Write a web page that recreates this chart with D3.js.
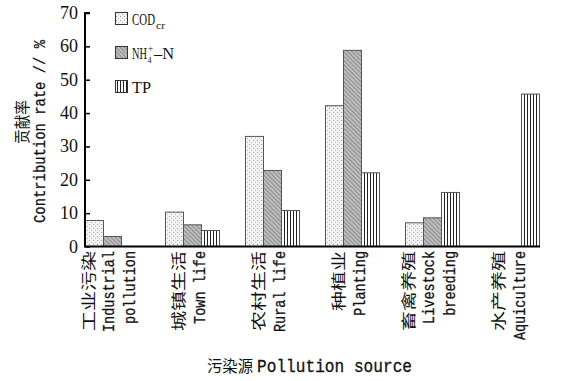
<!DOCTYPE html>
<html>
<head>
<meta charset="utf-8">
<script src="https://cdn.jsdelivr.net/npm/d3@7"></script>
<style>
  body { margin: 0; background: #fff; }
  svg { display: block; }
</style>
</head>
<body>
<div id="chart"></div>
<script>
// categories (zh + en lines), series values
const categoriesZh = ['工业污染', '城镇生活', '农村生活', '种植业', '畜禽养殖', '水产养殖']
const categoriesEn = [['Industrial', 'pollution'], ['Town life'], ['Rural life'], ['Planting'], ['Livestock', 'breeding'], ['Aquiculture']]
const seriesKeys = ['cod', 'nh4', 'tp']
const codValues = [7.8, 10.3, 33.0, 42.2, 7.1, 0]
const nh4Values = [3.0, 6.5, 22.8, 58.8, 8.6, 0]
const tpValues = [0, 4.8, 10.8, 22.1, 16.2, 45.7]
const yTicks = [0, 10, 20, 30, 40, 50, 60, 70]

const width = 572
const height = 381
const X0 = 85
const X1 = 539
const Y0 = 246.5
const Y1 = 13

const SERIF = '"Liberation Serif", "Times New Roman", serif'
const MONO = '"Liberation Mono", "DejaVu Sans Mono", monospace'
const CJK = '"Noto Sans CJK SC", sans-serif'

const svg = d3.select('#chart').append('svg').attr('width', width).attr('height', height)

// ---------- patterns
const defs = svg.append('defs')

const pDots = defs.append('pattern').attr('id', 'p-cod').attr('patternUnits', 'userSpaceOnUse')
  .attr('width', 4).attr('height', 4)
pDots.append('rect').attr('width', 4).attr('height', 4).attr('fill', '#f3f3f3')
pDots.append('rect').attr('x', 0).attr('y', 0).attr('width', 1).attr('height', 1).attr('fill', '#9a9a9a')
pDots.append('rect').attr('x', 2).attr('y', 2).attr('width', 1).attr('height', 1).attr('fill', '#b5b5b5')

const pDiag = defs.append('pattern').attr('id', 'p-nh4').attr('patternUnits', 'userSpaceOnUse')
  .attr('width', 3).attr('height', 3).attr('patternTransform', 'rotate(-45)')
pDiag.append('rect').attr('width', 3).attr('height', 3).attr('fill', '#c4c4c4')
pDiag.append('rect').attr('width', 1.2).attr('height', 3).attr('fill', '#8a8a8a')

const pVert = defs.append('pattern').attr('id', 'p-tp').attr('patternUnits', 'userSpaceOnUse')
  .attr('width', 3).attr('height', 3)
pVert.append('rect').attr('width', 3).attr('height', 3).attr('fill', '#fff')
pVert.append('rect').attr('x', 0).attr('width', 1).attr('height', 3).attr('fill', '#222')

const fills = { cod: 'url(#p-cod)', nh4: 'url(#p-nh4)', tp: 'url(#p-tp)' }

// ---------- scales
const xScale = d3.scaleBand()
  .domain(categoriesZh)
  .range([X0, X1])
  .paddingInner(0.325)
  .paddingOuter(0)
  .align(0)

const xSub = d3.scaleBand().domain(seriesKeys).range([0, xScale.bandwidth()]).padding(0)

const yScale = d3.scaleLinear().domain([0, 70]).range([Y0, Y1])

const data = categoriesZh.map((c, i) => ({
  cat: c,
  values: [
    { key: 'cod', v: codValues[i] },
    { key: 'nh4', v: nh4Values[i] },
    { key: 'tp', v: tpValues[i] },
  ],
}))

// ---------- bars
const groups = svg.append('g').attr('id', 'bars')
  .selectAll('g')
  .data(data)
  .join('g')
  .attr('transform', d => `translate(${xScale(d.cat)},0)`)

groups.selectAll('rect')
  .data(d => d.values.filter(v => v.v > 0))
  .join('rect')
  .attr('x', d => xSub(d.key) + 0.5)
  .attr('width', xSub.bandwidth())
  .attr('y', d => yScale(d.v))
  .attr('height', d => Y0 - yScale(d.v))
  .attr('fill', d => fills[d.key])
  .attr('stroke', '#555')
  .attr('stroke-width', 1)

// ---------- y axis
const yAxis = svg.append('g').attr('id', 'y-axis').attr('transform', `translate(${X0},0)`)
  .call(d3.axisRight(yScale).tickValues(yTicks).tickSize(5).tickFormat(''))
yAxis.select('.domain').attr('stroke', '#000').attr('stroke-width', 2)
  .attr('d', `M5,${Y1}H0V${Y0}`)
yAxis.selectAll('.tick line').attr('stroke', '#000').attr('stroke-width', 1.5)

svg.append('g').attr('id', 'y-tick-labels')
  .selectAll('text')
  .data(yTicks)
  .join('text')
  .attr('x', X0 - 7)
  .attr('y', d => yScale(d) + 6)
  .attr('text-anchor', 'end')
  .attr('font-family', SERIF)
  .attr('font-size', 18)
  .attr('fill', '#111')
  .text(d => d)

// x axis line
svg.append('line')
  .attr('x1', X0 - 1).attr('x2', X1 + 1)
  .attr('y1', Y0).attr('y2', Y0)
  .attr('stroke', '#000').attr('stroke-width', 2)

// ---------- x category labels (rotated, reading upwards)
const LINE_GAP = 21
const LABEL_TOP = 251
const xlab = svg.append('g').attr('id', 'x-labels')
categoriesZh.forEach((zh, i) => {
  const lines = [{ t: zh, zh: true }].concat(categoriesEn[i].map(t => ({ t, zh: false })))
  const cx = xScale(zh) + xScale.bandwidth() / 2 - 3
  lines.forEach((ln, j) => {
    const x = cx + (j - (lines.length - 1) / 2) * LINE_GAP
    const len = ln.zh ? ln.t.length * 20 : ln.t.length * 8.1
    xlab.append('text')
      .attr('transform', `translate(${x},${LABEL_TOP}) rotate(-90)`)
      .attr('text-anchor', 'end')
      .attr('dy', ln.zh ? '0.38em' : '0.32em')
      .attr('font-family', ln.zh ? CJK : MONO)
      .attr('font-size', ln.zh ? 15 : 17)
      .attr('textLength', len)
      .attr('lengthAdjust', 'spacingAndGlyphs')
      .attr('fill', '#111')
      .attr('stroke', ln.zh ? 'none' : '#111')
      .attr('stroke-width', 0.3)
      .text(ln.t)
  })
})

// ---------- axis titles
svg.append('text')
  .attr('transform', 'translate(22,122) rotate(-90)')
  .attr('text-anchor', 'middle').attr('dy', '0.38em')
  .attr('font-family', CJK).attr('font-size', 16)
  .attr('textLength', 44).attr('lengthAdjust', 'spacingAndGlyphs')
  .attr('fill', '#111')
  .text('贡献率')

svg.append('text')
  .attr('transform', 'translate(40,131.5) rotate(-90)')
  .attr('text-anchor', 'middle').attr('dy', '0.32em')
  .attr('font-family', MONO).attr('font-size', 17)
  .attr('textLength', 183).attr('lengthAdjust', 'spacingAndGlyphs')
  .attr('fill', '#111').attr('stroke', '#111').attr('stroke-width', 0.3)
  .text('Contribution rate // %')

svg.append('text')
  .attr('x', 207).attr('y', 372)
  .attr('font-family', CJK).attr('font-size', 16)
  .attr('textLength', 46).attr('lengthAdjust', 'spacingAndGlyphs')
  .attr('fill', '#111')
  .text('污染源')

svg.append('text')
  .attr('x', 257).attr('y', 372)
  .attr('font-family', MONO).attr('font-size', 18)
  .attr('textLength', 155).attr('lengthAdjust', 'spacingAndGlyphs')
  .attr('fill', '#111').attr('stroke', '#111').attr('stroke-width', 0.3)
  .text('Pollution source')

// ---------- legend
const LEG_X = 115
const LEG_Y = [12, 46, 80]
const legend = svg.append('g').attr('id', 'legend')
legend.selectAll('rect')
  .data(seriesKeys)
  .join('rect')
  .attr('x', LEG_X + 0.5).attr('y', (d, i) => LEG_Y[i] + 0.5)
  .attr('width', 12).attr('height', 12)
  .attr('fill', d => fills[d])
  .attr('stroke', '#333').attr('stroke-width', 1)

function legendText(x, y, str, size, len) {
  const t = legend.append('text')
    .attr('x', x).attr('y', y)
    .attr('font-family', SERIF).attr('font-size', size)
    .attr('fill', '#111')
    .text(str)
  if (len) t.attr('textLength', len).attr('lengthAdjust', 'spacingAndGlyphs')
  return t
}
// COD_cr
legendText(LEG_X + 17, LEG_Y[0] + 13, 'COD', 17, 23)
legendText(LEG_X + 41, LEG_Y[0] + 17, 'cr', 10, 9)
// NH4+-N
legendText(LEG_X + 17, LEG_Y[1] + 13, 'NH', 17, 15)
legendText(LEG_X + 32.5, LEG_Y[1] + 17, '4', 8)
legendText(LEG_X + 33, LEG_Y[1] + 5, '+', 9)
legendText(LEG_X + 39, LEG_Y[1] + 13, '–N', 17, 20)
// TP
legendText(LEG_X + 17, LEG_Y[2] + 13, 'TP', 17, 19)
</script>
</body>
</html>
